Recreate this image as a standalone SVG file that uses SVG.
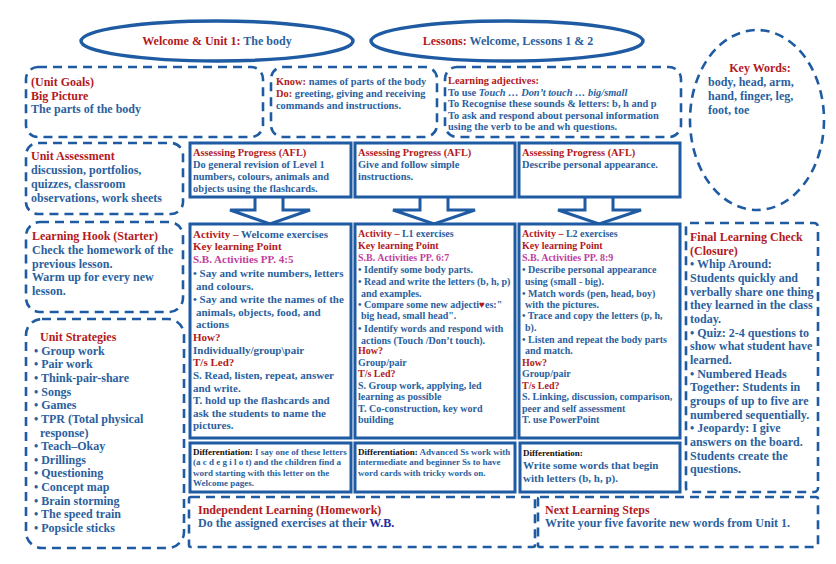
<svg xmlns="http://www.w3.org/2000/svg" width="836" height="564" viewBox="0 0 836 564">
<style>
text{font-family:"Liberation Serif","Times New Roman",serif;font-weight:bold;fill:#2b5f9e}
.r{fill:#b3191d}
.m{fill:#c23c9c}
.k{fill:#111}
.nb{fill:#1c2aa0}
.i{font-style:italic}
.d{fill:none;stroke:#1f5ba3;stroke-width:2.6;stroke-dasharray:9 6}
.s{fill:#fff;stroke:#1f5ba3;stroke-width:3}
.e{fill:none;stroke:#1f5ba3;stroke-width:3.5}
.f12{font-size:12px}
.f11{font-size:11px}
.f10{font-size:10px}
.f104{font-size:10.4px}
.f9{font-size:9px}
</style>
<rect width="836" height="564" fill="#fff"/>

<g id="title-unit">
<ellipse class="e" cx="217" cy="41" rx="136" ry="20"/>
<text class="f12" x="217" y="45" text-anchor="middle"><tspan class="r">Welcome &amp; Unit 1:</tspan> The body</text>
</g>

<g id="title-lessons">
<ellipse class="e" cx="507" cy="41" rx="136" ry="20"/>
<text class="f12" x="508" y="45" text-anchor="middle"><tspan class="r">Lessons:</tspan> Welcome, Lessons 1 &amp; 2</text>
</g>

<g id="key-words">
<ellipse class="d" cx="757" cy="120" rx="67" ry="90"/>
<text class="f12 r" x="760" y="72" text-anchor="middle">Key Words:</text>
<text class="f12" x="708" y="86">body, head, arm,</text>
<text class="f12" x="708" y="100">hand, finger, leg,</text>
<text class="f12" x="708" y="114">foot, toe</text>
</g>

<g id="unit-goals">
<rect class="d" x="26" y="67" width="237" height="70" rx="12"/>
<text class="f12 r" x="31" y="86">(Unit Goals)</text>
<text class="f12 r" x="31" y="100">Big Picture</text>
<text class="f12" x="31" y="113">The parts of the body</text>
</g>

<g id="know-do">
<rect class="d" x="271" y="67" width="166" height="70" rx="12"/>
<text class="f104" x="276" y="85"><tspan class="r">Know:</tspan> names of parts of the body</text>
<text class="f104" x="276" y="97"><tspan class="r">Do:</tspan> greeting, giving and receiving</text>
<text class="f104" x="276" y="109">commands and instructions.</text>
</g>

<g id="learning-adjectives">
<rect class="d" x="445" y="67" width="236" height="70" rx="12"/>
<text class="f104 r" x="448" y="84">Learning adjectives:</text>
<text class="f104" x="448" y="96">To use <tspan class="i">Touch … Don’t touch … big/small</tspan></text>
<text class="f104" x="448" y="107">To Recognise these sounds &amp; letters: b, h and p</text>
<text class="f104" x="448" y="119">To ask and respond about personal information</text>
<text class="f104" x="448" y="130">using the verb to be and wh questions.</text>
</g>

<g id="unit-assessment">
<rect class="d" x="26" y="143" width="157" height="71" rx="12"/>
<text class="f12 r" x="31" y="160">Unit Assessment</text>
<text class="f12" x="31" y="174">discussion, portfolios,</text>
<text class="f12" x="31" y="188">quizzes, classroom</text>
<text class="f12" x="31" y="202">observations, work sheets</text>
</g>

<g id="learning-hook">
<rect class="d" x="26" y="222" width="157" height="90" rx="14"/>
<text class="f12 r" x="32" y="240">Learning Hook (Starter)</text>
<text class="f12" x="32" y="254">Check the homework of the</text>
<text class="f12" x="32" y="268">previous lesson.</text>
<text class="f12" x="32" y="281">Warm up for every new</text>
<text class="f12" x="32" y="295">lesson.</text>
</g>

<g id="unit-strategies">
<rect class="d" x="26" y="319" width="158" height="229" rx="16"/>
<text class="f12 r" x="40" y="341">Unit Strategies</text>
<text class="f12" x="34" y="355">• Group work</text>
<text class="f12" x="34" y="368">• Pair work</text>
<text class="f12" x="34" y="382">• Think-pair-share</text>
<text class="f12" x="34" y="396">• Songs</text>
<text class="f12" x="34" y="409">• Games</text>
<text class="f12" x="34" y="423">• TPR (Total physical</text>
<text class="f12" x="40" y="437">response)</text>
<text class="f12" x="34" y="450">• Teach–Okay</text>
<text class="f12" x="34" y="464">• Drillings</text>
<text class="f12" x="34" y="477">• Questioning</text>
<text class="f12" x="34" y="491">• Concept map</text>
<text class="f12" x="34" y="505">• Brain storming</text>
<text class="f12" x="34" y="518">• The speed train</text>
<text class="f12" x="34" y="532">• Popsicle sticks</text>
</g>

<g id="connectors">
<polygon class="s" points="255,196 255,210 230,210 270,224 310,210 283,210 283,196"/>
<polygon class="s" points="420,196 420,210 393,210 434,224 475,210 448,210 448,196"/>
<polygon class="s" points="585,196 585,210 558,210 599,224 641,210 613,210 613,196"/>
</g>

<g id="afl-welcome">
<rect class="s" x="190" y="143" width="161" height="54"/>
<text class="f104 r" x="193" y="156">Assessing Progress (AFL)</text>
<text class="f104" x="193" y="168">Do general revision of  Level 1</text>
<text class="f104" x="193" y="180">numbers, colours, animals and</text>
<text class="f104" x="193" y="192">objects using the flashcards.</text>
</g>

<g id="afl-l1">
<rect class="s" x="355" y="143" width="160" height="54"/>
<text class="f104 r" x="358" y="156">Assessing Progress (AFL)</text>
<text class="f104" x="358" y="168">Give and follow simple</text>
<text class="f104" x="358" y="180">instructions.</text>
</g>

<g id="afl-l2">
<rect class="s" x="519" y="143" width="161" height="54"/>
<text class="f104 r" x="522" y="156">Assessing Progress (AFL)</text>
<text class="f104" x="522" y="168">Describe personal appearance.</text>
</g>

<g id="activity-welcome">
<rect class="s" x="190" y="224" width="161" height="214"/>
<text class="f11" x="193" y="238"><tspan class="r">Activity –</tspan> Welcome exercises</text>
<text class="f11 r" x="193" y="250">Key learning Point</text>
<text class="f11 m" x="193" y="263">S.B. Activities PP. 4:5</text>
<text class="f11" x="193" y="277">• Say and write numbers, letters</text>
<text class="f11" x="196" y="290">and colours.</text>
<text class="f11" x="193" y="303">• Say and write the names of the</text>
<text class="f11" x="196" y="316">animals, objects, food, and</text>
<text class="f11" x="196" y="328">actions</text>
<text class="f11 r" x="193" y="341">How?</text>
<text class="f11" x="193" y="354">Individually/group\pair</text>
<text class="f11 r" x="193" y="366">T/s Led?</text>
<text class="f11" x="193" y="379">S. Read, listen, repeat, answer</text>
<text class="f11" x="193" y="392">and write.</text>
<text class="f11" x="193" y="404">T. hold up the flashcards and</text>
<text class="f11" x="193" y="417">ask the students to name the</text>
<text class="f11" x="193" y="429">pictures.</text>
</g>

<g id="activity-l1">
<rect class="s" x="355" y="224" width="160" height="214"/>
<text class="f10" x="358" y="237"><tspan class="r">Activity –</tspan> L1 exercises</text>
<text class="f10 r" x="358" y="249">Key learning Point</text>
<text class="f10 m" x="358" y="261">S.B. Activities PP. 6:7</text>
<text class="f10" x="358" y="273">• Identify some body parts.</text>
<text class="f10" x="358" y="285">• Read and write the letters (b, h, p)</text>
<text class="f10" x="361" y="297">and examples.</text>
<text class="f10" x="358" y="308">• Compare some new adjecti<tspan class="r">♥</tspan>es:"</text>
<text class="f10" x="361" y="319">big head, small head".</text>
<text class="f10" x="358" y="332">• Identify words and respond with</text>
<text class="f10" x="361" y="344">actions (Touch /Don’t touch).</text>
<text class="f10 r" x="358" y="354">How?</text>
<text class="f10" x="358" y="366">Group/pair</text>
<text class="f10 r" x="358" y="377">T/s Led?</text>
<text class="f10" x="358" y="389">S. Group work, applying, led</text>
<text class="f10" x="358" y="400">learning as possible</text>
<text class="f10" x="358" y="412">T. Co-construction, key word</text>
<text class="f10" x="358" y="423">building</text>
</g>

<g id="activity-l2">
<rect class="s" x="519" y="224" width="161" height="214"/>
<text class="f10" x="522" y="237"><tspan class="r">Activity –</tspan> L2 exercises</text>
<text class="f10 r" x="522" y="249">Key learning Point</text>
<text class="f10 m" x="522" y="261">S.B. Activities PP. 8:9</text>
<text class="f10" x="522" y="273">• Describe personal appearance</text>
<text class="f10" x="525" y="285">using (small - big).</text>
<text class="f10" x="522" y="297">• Match words (pen, head, boy)</text>
<text class="f10" x="525" y="308">with the pictures.</text>
<text class="f10" x="522" y="319">• Trace and copy the letters (p, h,</text>
<text class="f10" x="525" y="331">b).</text>
<text class="f10" x="522" y="343">• Listen and repeat the body parts</text>
<text class="f10" x="525" y="354">and match.</text>
<text class="f10 r" x="522" y="366">How?</text>
<text class="f10" x="522" y="377">Group/pair</text>
<text class="f10 r" x="522" y="389">T/s Led?</text>
<text class="f10" x="522" y="400">S. Linking, discussion, comparison,</text>
<text class="f10" x="522" y="412">peer and self assessment</text>
<text class="f10" x="522" y="423">T. use PowerPoint</text>
</g>

<g id="final-check">
<rect class="d" x="686" y="223" width="132" height="269" rx="4"/>
<text class="f12 r" x="690" y="241">Final Learning Check</text>
<text class="f12 r" x="690" y="255">(Closure)</text>
<text class="f12" x="690" y="268">• Whip Around:</text>
<text class="f12" x="690" y="282">Students quickly and</text>
<text class="f12" x="690" y="296">verbally share one thing</text>
<text class="f12" x="690" y="309">they learned in the class</text>
<text class="f12" x="690" y="323">today.</text>
<text class="f12" x="690" y="337">• Quiz: 2-4 questions to</text>
<text class="f12" x="690" y="350">show what student have</text>
<text class="f12" x="690" y="364">learned.</text>
<text class="f12" x="690" y="378">• Numbered Heads</text>
<text class="f12" x="690" y="391">Together: Students in</text>
<text class="f12" x="690" y="405">groups of up to five are</text>
<text class="f12" x="690" y="419">numbered sequentially.</text>
<text class="f12" x="690" y="432">• Jeopardy: I give</text>
<text class="f12" x="690" y="446">answers on the board.</text>
<text class="f12" x="690" y="460">Students create the</text>
<text class="f12" x="690" y="473">questions.</text>
</g>

<g id="diff-welcome">
<rect class="s" x="190" y="443" width="161" height="49"/>
<text class="f9" x="193" y="455"><tspan class="k">Differentiation:</tspan> I say one of these letters</text>
<text class="f9" x="193" y="465">(a c d e g i l o t) and the children find a</text>
<text class="f9" x="193" y="476">word starting with this letter on the</text>
<text class="f9" x="193" y="486">Welcome pages.</text>
</g>

<g id="diff-l1">
<rect class="s" x="355" y="443" width="160" height="49"/>
<text class="f9" x="358" y="455"><tspan class="k">Differentiation:</tspan> Advanced Ss work with</text>
<text class="f9" x="358" y="465">intermediate and beginner Ss to have</text>
<text class="f9" x="358" y="476">word cards with tricky words on.</text>
</g>

<g id="diff-l2">
<rect class="s" x="520" y="443" width="160" height="49"/>
<text class="f9 k" x="523" y="456">Differentiation:</text>
<text class="f11" x="523" y="469">Write some words that begin</text>
<text class="f11" x="523" y="482">with letters (b, h, p).</text>
</g>

<g id="independent-learning">
<rect class="d" x="189" y="497" width="346" height="50" rx="2"/>
<text class="f12 r" x="198" y="514">Independent Learning (Homework)</text>
<text class="f12" x="198" y="527">Do the assigned exercises at their <tspan class="nb">W.B.</tspan></text>
</g>

<g id="next-steps">
<rect class="d" x="538" y="497" width="280" height="50" rx="2"/>
<text class="f12 r" x="545" y="514">Next Learning Steps</text>
<text class="f12" x="545" y="527">Write your five favorite new words from Unit 1.</text>
</g>
</svg>
